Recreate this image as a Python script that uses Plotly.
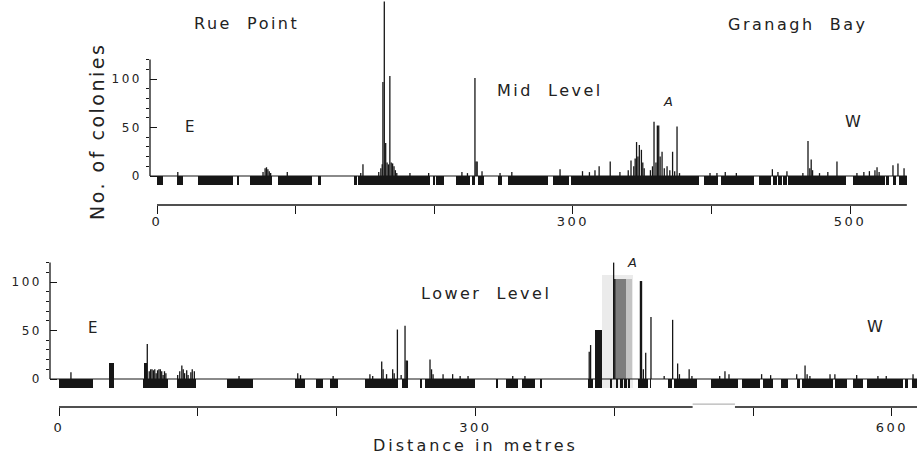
import plotly.graph_objects as go

W, H = 917, 454

# ---------------- data (metres / number of colonies) ----------------
# Mid level: substrate (rock) sections along the transect
mid_rock_start = [0, 14.5, 29.5, 58, 67, 87.5, 116, 142, 145, 199, 201.5, 216, 227.5, 231.5, 246, 253,
                  286, 299, 395, 407, 434, 444.5, 448, 452, 455.5, 502, 526, 531, 535.5]
mid_rock_end = [4.5, 19, 55, 59.5, 83, 112, 118, 144, 197, 200.5, 207, 226, 229.5, 236, 249, 282,
                297, 391, 405, 431, 443, 447, 451, 454.5, 497, 525, 528, 533.5, 541]
# Mid level: colony counts
mid_dist = [15, 76.5, 78, 79, 80, 81, 82, 94, 147, 148.6,
            160, 161.5, 162.5, 163, 164, 165, 166, 167, 168, 169, 170, 171, 172, 173,
            182.5, 196, 220, 224, 229.4, 230.2, 231, 234.5, 247.5, 256, 290.8, 307, 312, 316, 319,
            327, 334, 340, 342, 344, 345, 346, 347, 348, 349.5, 350.5, 351.5,
            356, 357.5, 358.6, 360, 361, 362, 363, 364.4, 366, 368, 370, 372, 373.5, 375.2, 377,
            399, 404, 410, 418, 444, 448, 454.5, 466, 469.7, 471, 472, 473, 478, 484, 490.6,
            505, 510, 514, 518, 519.5, 521, 531, 534.6, 539]
mid_count = [4, 4, 8, 9, 7, 5, 3, 4, 3, 12,
             4, 8, 12, 97, 180, 34, 14, 12, 103, 14, 13, 10, 6, 3,
             3, 3, 4, 3, 101, 15, 15, 5, 3, 4, 7, 5, 4, 6, 10,
             15, 4, 6, 16, 10, 18, 35, 20, 32, 27, 14, 8,
             6, 10, 56, 14, 52, 52, 20, 25, 8, 10, 6, 25, 5, 51, 3,
             3, 3, 4, 3, 7, 4, 5, 3, 36, 8, 17, 6, 3, 4, 15,
             3, 4, 5, 6, 9, 4, 11, 13, 8]

# Lower level: substrate (rock) sections
low_rock_start = [0, 36, 60.5, 85, 121, 170, 185.5, 195, 220.5, 247, 260, 263.7, 315.5, 322, 333.6, 346.5,
                  381, 386, 397, 401, 404, 407, 410, 417, 425.8, 439, 443, 470, 492, 507, 520, 531.5,
                  535, 559, 572, 582, 609.5, 614.5]
low_rock_end = [24.5, 39.6, 78.5, 98.7, 139.8, 177, 190, 201, 244, 251.5, 261.5, 299.7, 316.5, 330.7, 343, 348,
                384.7, 391, 398.5, 403, 406, 409, 411, 424, 426.5, 441.5, 460, 489, 505, 514.5, 525, 534,
                557.5, 567.5, 579, 608, 612, 618]
# Lower level: colony counts
low_dist = [8.6, 63.6, 65, 66, 67, 68, 69, 70, 71, 72, 73, 74, 75, 76, 77,
            85.5, 87, 88.5, 89.5, 90.5, 92, 93, 95, 96, 97.5, 129.7, 172, 174, 197.5,
            224, 226, 232.5, 233.5, 236, 240.4, 241.5, 243.8, 246.5, 249.3, 250.2, 251,
            267.3, 268.4, 269.5, 276.7, 283.6, 289, 294.7, 326.9, 335.7,
            382, 383, 399.6, 400.4, 418.9, 419.7, 421, 422.7, 426.5, 436, 442.1, 445.7, 447, 454, 456,
            476, 479.8, 482.7, 506.2, 512.7, 531.5, 537.5, 539, 541, 555.5, 559, 574.7, 590, 596, 615.3]
low_count = [7, 36, 8, 10, 10, 9, 10, 6, 9, 10, 10, 8, 4, 8, 6,
             4, 8, 14, 10, 6, 9, 4, 7, 10, 8, 3, 6, 4, 3,
             5, 3, 18, 10, 5, 10, 6, 51, 4, 55, 19, 19,
             20, 10, 5, 5, 5, 3, 3, 3, 3,
             28, 35, 120, 103, 101, 101, 10, 27, 64, 3, 61, 16, 5, 10, 3,
             3, 8, 5, 5, 4, 5, 14, 5, 3, 5, 5, 4, 3, 3, 5]
# Lower level: solid blocks of colonies
low_block_start = [36, 61, 386.2]
low_block_end = [39.6, 63.2, 391.2]
low_block_count = [17, 16, 51]
# Lower level: shaded (grey) part of the "A" patch
low_shade_start = [391.2, 400.5, 408.5]
low_shade_end = [413.5, 408.5, 413.0]
low_shade_top = [107, 103, 103]
low_shade_bottom = [-9, 0, 0]

# tick labels
mid_xticks = [0, 100, 200, 300, 400, 500]
mid_xlabels = ["0", "", "", "300", "", "500"]
low_xticks = [0, 100, 200, 300, 400, 500, 600]
low_xlabels = ["0", "", "", "300", "", "", "600"]
y_ticks = [0, 50, 100]
y_labels = ["0", "50", "100"]
y_minor = [10, 20, 30, 40, 60, 70, 80, 90, 110, 120]

ROCK_DEPTH = -9
INK = "#161616"
FONT = "DejaVu Sans"


def sp(t, ls):
    return "<span style='letter-spacing:%spx'>%s</span>" % (ls, t) if t else ""


def px_x(p):
    return p / W


def px_y(p):
    return 1 - p / H


fig = go.Figure()


def add_panel(xa, ya, rs, re, dist, cnt):
    fig.add_trace(go.Bar(
        x=[(a + b) / 2 for a, b in zip(rs, re)], y=[ROCK_DEPTH] * len(rs),
        width=[b - a for a, b in zip(rs, re)], marker=dict(color=INK, line=dict(width=0)),
        xaxis=xa, yaxis=ya, showlegend=False, hoverinfo="skip"))
    xs, ys = [], []
    for d, c in zip(dist, cnt):
        xs += [d, d, None]
        ys += [0, c, None]
    fig.add_trace(go.Scatter(x=xs, y=ys, mode="lines", line=dict(color=INK, width=1.3),
                             xaxis=xa, yaxis=ya, showlegend=False, hoverinfo="skip"))


add_panel("x", "y", mid_rock_start, mid_rock_end, mid_dist, mid_count)

# lower level: shaded patch first, then data
shade_cols = ["#ebebeb", "#7d7d7d", "#c4c4c4"]
fig.add_trace(go.Bar(
    x=[(a + b) / 2 for a, b in zip(low_shade_start, low_shade_end)],
    y=[t - b for t, b in zip(low_shade_top, low_shade_bottom)], base=low_shade_bottom,
    width=[b - a for a, b in zip(low_shade_start, low_shade_end)],
    marker=dict(color=shade_cols, line=dict(width=0)),
    xaxis="x2", yaxis="y2", showlegend=False, hoverinfo="skip"))
fig.add_trace(go.Bar(
    x=[(a + b) / 2 for a, b in zip(low_block_start, low_block_end)], y=low_block_count,
    width=[b - a for a, b in zip(low_block_start, low_block_end)],
    marker=dict(color=INK, line=dict(width=0)),
    xaxis="x2", yaxis="y2", showlegend=False, hoverinfo="skip"))
add_panel("x2", "y2", low_rock_start, low_rock_end, low_dist, low_count)

# ---------------- axes ----------------
k_top, k_low, k_y = 1.386, 1.388, 0.97

common_x = dict(showgrid=False, zeroline=False, showline=False, ticks="outside", ticklen=8,
                tickwidth=1.3, tickcolor=INK, tickfont=dict(family=FONT, size=13, color="#222"),
                tickmode="array")
common_y = dict(showgrid=False, zeroline=False, showline=False, ticks="inside", ticklen=7,
                tickwidth=1.3, tickcolor=INK, tickfont=dict(family=FONT, size=12, color="#222"),
                tickmode="array", tickvals=y_ticks, ticktext=[sp(t, 2.5) for t in y_labels],
                ticklabelstandoff=7,
                minor=dict(tickmode="array", tickvals=y_minor, ticks="outside", ticklen=3,
                           tickwidth=1, tickcolor=INK))

fig.update_layout(
    width=W, height=H, margin=dict(l=0, r=0, t=0, b=0),
    paper_bgcolor="white", plot_bgcolor="white", barmode="overlay", bargap=0,
    xaxis=dict(common_x, domain=[px_x(150), px_x(912)], range=[-7 / k_top, 755 / k_top],
               tickvals=mid_xticks, ticktext=[sp(t, 2.5) for t in mid_xlabels], anchor="y",
               ticklabelstandoff=-4),
    yaxis=dict(common_y, domain=[px_y(205), 1], range=[-29 / k_y, 176 / k_y], anchor="x"),
    xaxis2=dict(common_x, domain=[px_x(50), 1], range=[-9 / k_low, 858 / k_low],
                tickvals=low_xticks, ticktext=[sp(t, 2.5) for t in low_xlabels], anchor="y2",
                ticklabelstandoff=0),
    yaxis2=dict(common_y, domain=[px_y(407), px_y(250)], range=[-28 / k_y, 129 / k_y], anchor="x2"),
)

line = dict(color=INK, width=1.3)
shapes = [
    dict(type="line", xref="x domain", yref="y", x0=0, x1=0, y0=0, y1=120, line=line),
    dict(type="line", xref="x", yref="y", x0=-7 / k_top, x1=541, y0=0, y1=0, line=dict(color=INK, width=1.1)),
    dict(type="line", xref="x", yref="y domain", x0=0, x1=541, y0=0, y1=0, line=line),
    dict(type="line", xref="x2 domain", yref="y2", x0=0, x1=0, y0=0, y1=120, line=line),
    dict(type="line", xref="x2", yref="y2", x0=-9 / k_low, x1=619, y0=0, y1=0, line=dict(color=INK, width=1.1)),
    dict(type="line", xref="x2", yref="y2 domain", x0=0, x1=456.5, y0=0, y1=0, line=line),
    dict(type="line", xref="x2", yref="y2", x0=456.5, x1=487, y0=-25.8, y1=-25.8, line=dict(color="#b5b5b5", width=1.3)),
    dict(type="line", xref="x2", yref="y2 domain", x0=487, x1=619, y0=0, y1=0, line=line),
]
fig.update_layout(shapes=shapes)

# ---------------- text ----------------
def txt(t, x, y, size, ls=2, italic=False, angle=0):
    s = sp(t, ls)
    if italic:
        s = "<i>" + s + "</i>"
    fig.add_annotation(text=s, x=px_x(x), y=px_y(y), xref="paper", yref="paper",
                       showarrow=False, xanchor="center", yanchor="middle", textangle=angle,
                       font=dict(family=FONT, size=size, color="#222"))


txt("Rue&nbsp; Point", 246, 24, 16, 2.5)
txt("Granagh&nbsp; Bay", 797, 25, 16, 2.5)
txt("Mid&nbsp; Level", 550, 90, 16, 2.5)
txt("A", 668, 101, 13, 0, italic=True)
txt("E", 189, 127, 15, 0)
txt("W", 853, 122, 16, 0)
txt("No. of colonies", 97, 132, 19, 2.5, angle=-90)
txt("Lower&nbsp; Level", 486, 293, 16, 2.5)
txt("A", 632, 262, 13, 0, italic=True)
txt("E", 92, 328, 15, 0)
txt("W", 875, 326, 16, 0)
txt("Distance in metres", 475, 445, 16, 3)

fig.write_html("out.html", config={"displayModeBar": False},
               post_script="document.body.style.margin='0px';")
